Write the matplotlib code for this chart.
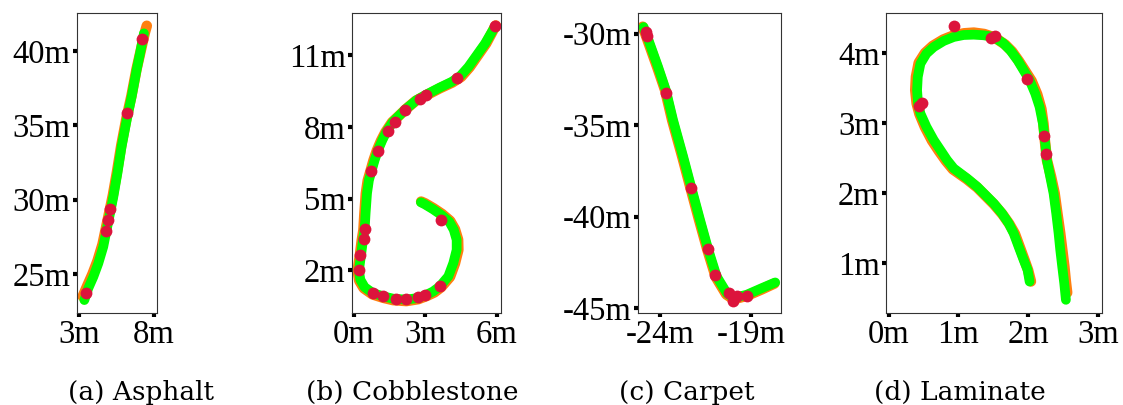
import matplotlib
matplotlib.use("Agg")
import matplotlib.pyplot as plt

W, H = 1123, 405

# (a) Asphalt
asph_gt_x = [3.25, 3.55, 3.9, 4.24, 4.57, 4.8, 5.03, 5.26, 5.53, 5.82, 6.16, 6.5, 6.84, 7.1, 7.38, 7.52]
asph_gt_y = [23.5, 24.2, 25.0, 25.9, 27.0, 28.1, 29.2, 30.3, 31.85, 33.65, 35.45, 37.0, 38.8, 39.95, 41.2, 41.7]
asph_est_x = [3.36, 3.62, 3.96, 4.29, 4.62, 4.84, 5.07, 5.29, 5.56, 5.84, 6.18, 6.51, 6.84, 7.07, 7.33]
asph_est_y = [23.25, 24.04, 24.82, 25.72, 26.84, 27.96, 29.08, 30.2, 31.77, 33.57, 35.36, 36.93, 38.72, 39.84, 41.19]
asph_pts_x = [3.47, 4.8, 4.95, 5.07, 6.22, 7.2]
asph_pts_y = [23.7, 27.9, 28.64, 29.37, 35.81, 40.79]

# (b) Cobblestone
cob_gt_x = [5.95, 5.55, 5.2, 4.85, 4.5, 4.12, 3.6, 3.04, 2.6, 2.18, 1.9, 1.6, 1.32, 1.14, 0.96,
            0.82, 0.68, 0.58, 0.5, 0.44, 0.4, 0.33, 0.26, 0.16, 0.22, 0.41, 0.78, 1.22, 1.64,
            2.2, 2.7, 3.07, 3.37, 3.66, 4.03, 4.24, 4.38, 4.37, 4.24, 4.04, 3.7, 3.34, 2.98, 2.82]
cob_gt_y = [12.25, 11.5, 11.0, 10.5, 10.1, 9.86, 9.62, 9.33, 9.1, 8.75, 8.48, 8.2, 7.78, 7.43,
            7.01, 6.6, 6.1, 5.76, 5.21, 4.37, 3.7, 3.26, 2.7, 2.0, 1.58, 1.26, 1.0, 0.86, 0.76,
            0.72, 0.8, 0.94, 1.08, 1.3, 1.73, 2.3, 2.86, 3.29, 3.72, 4.07, 4.36, 4.6, 4.81, 4.88]
cob_est_x = [5.92, 5.5, 5.15, 4.8, 4.45, 4.1, 3.6, 3.04, 2.62, 2.2, 1.92, 1.64, 1.36, 1.19, 1.01,
             0.87, 0.73, 0.63, 0.55, 0.49, 0.45, 0.38, 0.31, 0.21, 0.27, 0.45, 0.8, 1.22, 1.64,
             2.2, 2.69, 3.04, 3.32, 3.6, 3.96, 4.17, 4.31, 4.31, 4.19, 4.0, 3.67, 3.32, 2.97, 2.81]
cob_est_y = [12.21, 11.49, 11.0, 10.51, 10.12, 9.89, 9.65, 9.36, 9.12, 8.77, 8.5, 8.22, 7.8, 7.45,
             7.03, 6.62, 6.13, 5.78, 5.23, 4.39, 3.72, 3.28, 2.72, 2.0, 1.61, 1.30, 1.05, 0.92,
             0.82, 0.78, 0.85, 0.98, 1.12, 1.33, 1.75, 2.31, 2.86, 3.28, 3.7, 4.04, 4.32, 4.56,
             4.77, 4.85]
cob_pts_x = [5.92, 4.31, 3.04, 2.76, 2.16, 1.71, 1.43, 1.01, 0.73, 0.45, 0.41, 0.27, 0.2,
             0.8, 1.22, 1.78, 2.2, 2.69, 2.97, 3.6, 3.65]
cob_pts_y = [12.21, 10.07, 9.36, 9.19, 8.73, 8.2, 7.84, 6.99, 6.14, 3.72, 3.31, 2.65, 2.0,
             1.05, 0.92, 0.82, 0.8, 0.87, 0.98, 1.33, 4.11]

# (c) Carpet
carp_gt_x = [-24.98, -24.74, -24.18, -23.74, -23.35, -22.79, -22.33, -21.86, -21.4,
             -20.94, -20.36, -19.96, -19.22, -18.4, -17.7]
carp_gt_y = [-29.62, -30.27, -31.82, -33.09, -34.73, -36.73, -38.45, -40.18, -41.82,
             -43.3, -44.25, -44.52, -44.33, -43.98, -43.66]
carp_est_x = [-24.93, -24.69, -24.13, -23.7, -23.3, -22.74, -22.28, -21.81, -21.35,
              -20.89, -20.33, -19.96, -19.22, -18.39, -17.65]
carp_est_y = [-29.64, -30.27, -31.82, -33.09, -34.73, -36.73, -38.45, -40.18, -41.82,
              -43.27, -44.18, -44.45, -44.27, -43.91, -43.6]
carp_pts_x = [-24.81, -24.74, -23.67, -22.31, -21.39, -20.98, -20.19, -19.78, -20.0, -19.19]
carp_pts_y = [-29.91, -30.15, -33.24, -38.45, -41.78, -43.18, -44.18, -44.33, -44.64, -44.36]

# (d) Laminate
lam_gt_x = [2.04, 2.0, 1.95, 1.88, 1.81, 1.73, 1.63, 1.51, 1.39, 1.27, 1.12, 1.02, 0.92, 0.82,
            0.72, 0.62, 0.52, 0.44, 0.40, 0.38, 0.39, 0.43, 0.52, 0.63, 0.78, 0.93, 1.08, 1.22,
            1.37, 1.52, 1.67, 1.77, 1.87, 1.96, 2.05, 2.13, 2.19, 2.22, 2.24, 2.27, 2.33, 2.38,
            2.42, 2.46, 2.49, 2.52, 2.54, 2.56]
lam_gt_y = [0.74, 0.9, 1.04, 1.23, 1.42, 1.56, 1.7, 1.84, 1.96, 2.08, 2.2, 2.27, 2.34, 2.46,
            2.6, 2.75, 2.94, 3.13, 3.28, 3.47, 3.66, 3.86, 4.0, 4.1, 4.19, 4.25, 4.28, 4.29,
            4.27, 4.22, 4.12, 4.02, 3.88, 3.74, 3.6, 3.41, 3.2, 2.99, 2.75, 2.47, 2.23, 2.0,
            1.71, 1.43, 1.19, 0.95, 0.75, 0.58]
lam_est_x = [2.021, 1.992, 1.935, 1.863, 1.792, 1.72, 1.624, 1.505, 1.386, 1.266, 1.123, 1.027,
             0.932, 0.836, 0.741, 0.645, 0.54, 0.454, 0.42, 0.406, 0.416, 0.454, 0.54, 0.645,
             0.788, 0.932, 1.075, 1.218, 1.362, 1.505, 1.639, 1.744, 1.849, 1.935, 2.021,
             2.102, 2.164, 2.212, 2.241, 2.269, 2.317, 2.365, 2.403, 2.437, 2.461, 2.489,
             2.518, 2.542]
lam_est_y = [0.739, 0.906, 1.048, 1.238, 1.428, 1.57, 1.713, 1.855, 1.974, 2.093, 2.211, 2.282,
             2.353, 2.472, 2.614, 2.757, 2.946, 3.136, 3.279, 3.468, 3.658, 3.848, 3.991,
             4.085, 4.171, 4.228, 4.256, 4.261, 4.252, 4.228, 4.142, 4.038, 3.896, 3.753,
             3.611, 3.421, 3.231, 2.994, 2.757, 2.472, 2.234, 1.997, 1.712, 1.428, 1.19,
             0.953, 0.716, 0.478]
lam_pts_x = [0.94, 1.46, 1.53, 1.98, 0.43, 0.48, 2.23, 2.26]
lam_pts_y = [4.38, 4.22, 4.24, 3.63, 3.25, 3.28, 2.81, 2.56]

panels = [
    dict(gt=(asph_gt_x, asph_gt_y), est=(asph_est_x, asph_est_y), pts=(asph_pts_x, asph_pts_y),
         box=(77, 157, 13, 313), xlim=(2.87, 8.2), ylim=(22.38, 42.56),
         xt=[3, 8], yt=[25, 30, 35, 40], title="(a) Asphalt", tx=141),
    dict(gt=(cob_gt_x, cob_gt_y), est=(cob_est_x, cob_est_y), pts=(cob_pts_x, cob_pts_y),
         box=(352, 501, 13, 313), xlim=(-0.08, 6.17), ylim=(0.22, 12.77),
         xt=[0, 3, 6], yt=[2, 5, 8, 11], title="(b) Cobblestone", tx=412),
    dict(gt=(carp_gt_x, carp_gt_y), est=(carp_est_x, carp_est_y), pts=(carp_pts_x, carp_pts_y),
         box=(638, 781, 13, 313), xlim=(-25.24, -17.33), ylim=(-45.27, -28.87),
         xt=[-24, -19], yt=[-45, -40, -35, -30], title="(c) Carpet", tx=687),
    dict(gt=(lam_gt_x, lam_gt_y), est=(lam_est_x, lam_est_y), pts=(lam_pts_x, lam_pts_y),
         box=(886, 1102, 13, 313), xlim=(-0.04, 3.06), ylim=(0.29, 4.57),
         xt=[0, 1, 2, 3], yt=[1, 2, 3, 4], title="(d) Laminate", tx=960),
]

fig = plt.figure(figsize=(W / 100, H / 100), dpi=100)

for p in panels:
    l, r, t, b = p["box"]
    ax = fig.add_axes([l / W, (H - b) / H, (r - l) / W, (b - t) / H])
    ax.plot(*p["gt"], color="#ff7f0e", lw=7.6, solid_capstyle="round", solid_joinstyle="round")
    ax.plot(*p["est"], color="#00ff00", lw=7, solid_capstyle="round", solid_joinstyle="round")
    ax.plot(*p["pts"], "o", color="crimson", ms=8.5, mec="none")
    ax.set_xlim(p["xlim"])
    ax.set_ylim(p["ylim"])
    ax.set_xticks(p["xt"], [f"{v}m" for v in p["xt"]], fontfamily="Liberation Serif", fontsize=23.5)
    ax.set_yticks(p["yt"], [f"{v}m" for v in p["yt"]], fontfamily="Liberation Serif", fontsize=23.5)
    ax.tick_params(length=3, width=3, pad=1.5, color="black")
    for s in ax.spines.values():
        s.set_linewidth(0.8)
        s.set_color("#333333")
    fig.text(p["tx"] / W, 5 / H, p["title"], ha="center", va="baseline",
             fontsize=19, family="DejaVu Serif")

fig.savefig("out.png", dpi=100)
